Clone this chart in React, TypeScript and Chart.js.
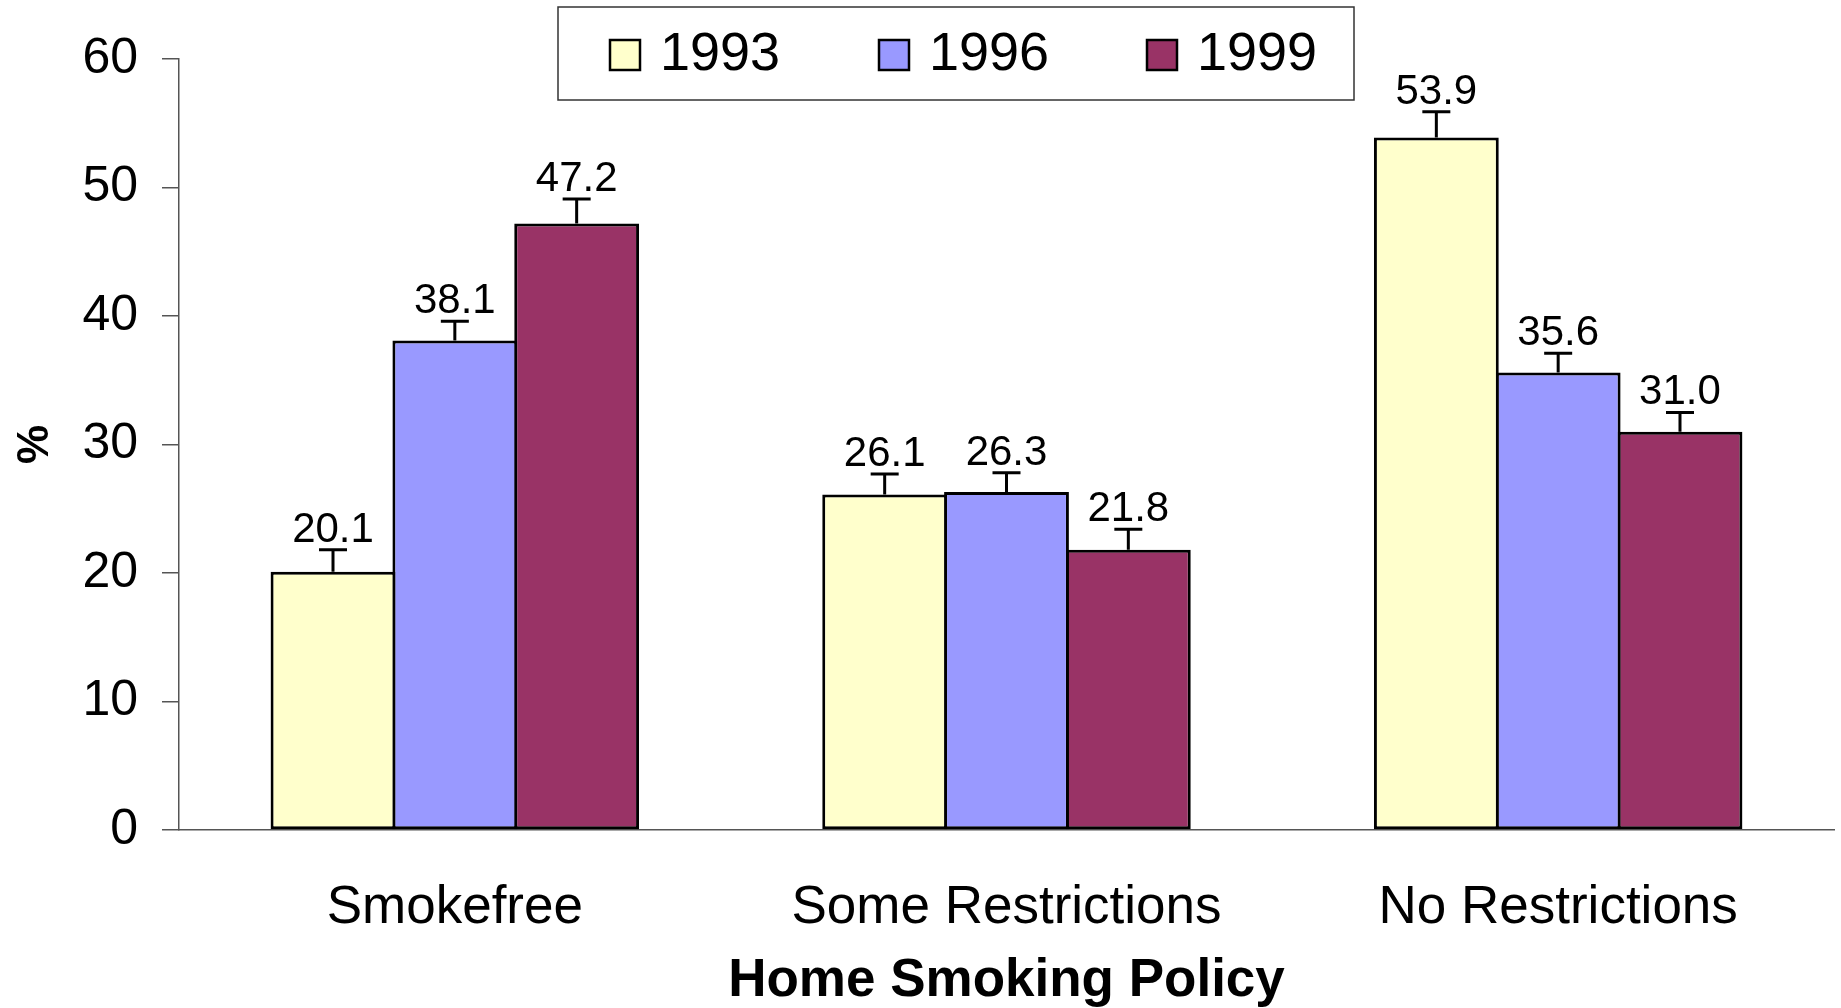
import React, { useEffect, useRef } from 'react';
import { Chart, registerables } from 'chart.js';

Chart.register(...registerables);

const categories = ['Smokefree', 'Some Restrictions', 'No Restrictions'];
const seriesLabels = ['1993', '1996', '1999'];
const values1993 = [20.1, 26.1, 53.9];
const values1996 = [38.1, 26.3, 35.6];
const values1999 = [47.2, 21.8, 31.0];
const errors1993 = [1.7, 1.6, 2.0];
const errors1996 = [1.5, 1.5, 1.5];
const errors1999 = [1.9, 1.6, 1.5];
const seriesColors = ['#FFFFCC', '#9999FF', '#993366'];
const yMin = 0;
const yMax = 60;
const yStep = 10;
const xTitle = 'Home Smoking Policy';
const yTitle = '%';

const FONT = '"Liberation Sans", Arial, Helvetica, sans-serif';

const errorBarPlugin = {
  id: 'errorBarsAndLabels',
  afterDatasetsDraw(chart: any) {
    const ctx = chart.ctx;
    const yScale = chart.scales.y;
    chart.data.datasets.forEach((ds: any, di: number) => {
      const meta = chart.getDatasetMeta(di);
      meta.data.forEach((bar: any, i: number) => {
        const v = ds.data[i];
        const e = ds.errors[i];
        const top = yScale.getPixelForValue(v + e);
        ctx.save();
        ctx.strokeStyle = '#000';
        ctx.lineWidth = 3;
        ctx.beginPath();
        ctx.moveTo(bar.x, bar.y);
        ctx.lineTo(bar.x, top);
        ctx.moveTo(bar.x - 14, top);
        ctx.lineTo(bar.x + 14, top);
        ctx.stroke();
        ctx.fillStyle = '#000';
        ctx.font = `42px ${FONT}`;
        ctx.textAlign = 'center';
        ctx.textBaseline = 'alphabetic';
        ctx.fillText(v.toFixed(1), bar.x, top - 8);
        ctx.restore();
      });
    });
  },
};

const legendBoxPlugin = {
  id: 'legendBox',
  afterDraw(chart: any) {
    const ctx = chart.ctx;
    const boxL = 558, boxT = 7, boxW = 796, boxH = 93;
    ctx.save();
    ctx.fillStyle = '#fff';
    ctx.fillRect(boxL, boxT, boxW, boxH);
    ctx.strokeStyle = '#333';
    ctx.lineWidth = 1.5;
    ctx.strokeRect(boxL, boxT, boxW, boxH);
    const itemX = [610, 879, 1147];
    const cy = 55;
    chart.data.datasets.forEach((ds: any, i: number) => {
      const x = itemX[i];
      ctx.fillStyle = ds.backgroundColor;
      ctx.fillRect(x, cy - 15, 30, 30);
      ctx.strokeStyle = '#000';
      ctx.lineWidth = 2.5;
      ctx.strokeRect(x, cy - 15, 30, 30);
      ctx.fillStyle = '#000';
      ctx.font = `54px ${FONT}`;
      ctx.textAlign = 'left';
      ctx.textBaseline = 'middle';
      ctx.fillText(ds.label, x + 50, cy);
    });
    ctx.restore();
  },
};

export default function App() {
  const canvasRef = useRef<HTMLCanvasElement | null>(null);

  useEffect(() => {
    if (!canvasRef.current) return;
    const values = [values1993, values1996, values1999];
    const errors = [errors1993, errors1996, errors1999];
    const datasets = seriesLabels.map((label, i) => ({
      label,
      data: values[i],
      errors: errors[i],
      backgroundColor: seriesColors[i],
      borderColor: '#000',
      borderWidth: 3,
      borderSkipped: false,
      barPercentage: 1.0247,
      categoryPercentage: 0.6625,
    }));

    const chart = new Chart(canvasRef.current, {
      type: 'bar',
      data: { labels: categories, datasets } as any,
      options: {
        animation: false,
        responsive: false,
        maintainAspectRatio: false,
        layout: { padding: { left: 0, right: 7, top: 59, bottom: 0 } },
        plugins: {
          legend: { display: false },
          tooltip: { enabled: false },
        },
        scales: {
          x: {
            grid: { display: false },
            border: { display: true, color: '#555', width: 1.5 },
            ticks: {
              color: '#000',
              font: { family: FONT, size: 53 },
              padding: 39,
              maxRotation: 0,
            },
            title: {
              display: true,
              text: xTitle,
              color: '#000',
              font: { family: FONT, size: 53, weight: 'bold', lineHeight: 1.0 },
              padding: { top: 0, bottom: 0 },
            },
            afterFit: (s: any) => {
              s.height = 178;
            },
          },
          y: {
            min: yMin,
            max: yMax,
            grid: {
              drawOnChartArea: false,
              drawTicks: true,
              tickLength: 17,
              color: '#555',
              lineWidth: 1.5,
            },
            border: { display: true, color: '#555', width: 1.5 },
            ticks: {
              stepSize: yStep,
              color: '#000',
              font: { family: FONT, size: 50 },
              padding: 24,
            },
            title: {
              display: true,
              text: yTitle,
              color: '#000',
              font: { family: FONT, size: 44, weight: 'bold' },
              padding: { top: 9, bottom: 0 },
            },
            afterFit: (s: any) => {
              s.width = 179;
            },
          },
        },
      } as any,
      plugins: [errorBarPlugin, legendBoxPlugin],
    });
    return () => chart.destroy();
  }, []);

  return (
    <div style={{ position: 'fixed', left: 0, top: 0, width: 1841, height: 1008, background: '#fff' }}>
      <canvas ref={canvasRef} width={1841} height={1008} style={{ width: 1841, height: 1008, display: 'block' }} />
    </div>
  );
}
